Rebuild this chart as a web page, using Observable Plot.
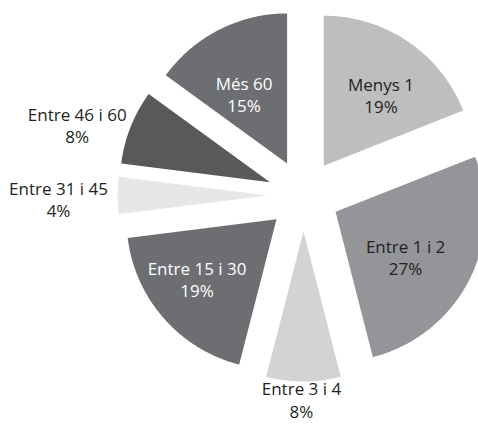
<!DOCTYPE html>
<html>
<head>
<meta charset="utf-8">
<script src="https://cdn.jsdelivr.net/npm/d3@7"></script>
<script src="https://cdn.jsdelivr.net/npm/@observablehq/plot@0.6"></script>
<style>
  html, body { margin: 0; padding: 0; background: #ffffff; }
  svg { display: block; }
</style>
</head>
<body>
<div id="chart"></div>
<script>
// ---- data ----
const categories = ["Menys 1", "Entre 1 i 2", "Entre 3 i 4", "Entre 15 i 30", "Entre 31 i 45", "Entre 46 i 60", "Més 60"];
const values = [19, 27, 8, 19, 4, 8, 15];
const percentLabels = values.map(v => v + "%");

// ---- styles ----
const sliceColors = ["#bcbec0", "#939598", "#d1d3d4", "#6d6e71", "#e6e7e8", "#58595b", "#6d6e71"];
const labelColors = ["#231f20", "#231f20", "#231f20", "#ffffff", "#231f20", "#231f20", "#ffffff"];

// ---- layout ----
const W = 478, H = 424;
const cx = 303, cy = 195;       // pie centre in the frame
const R = 150;                  // slice radius
const explode = 36;             // radial offset of every slice
const labelDist = [127, 119, 204, 135, 245, 237, 118];   // label distance from centre
const labelFrac = [0.55, 0.54, 0.52, 0.55, 0.45, 0.35, 0.44]; // position inside slice angle

// ---- geometry from data ----
const arcs = d3.pie().sort(null).value(d => d)(values);
const slicePts = [];
const labelData = [];
arcs.forEach((a, i) => {
  const cat = categories[i];
  const mid = (a.startAngle + a.endAngle) / 2;
  const ox = explode * Math.sin(mid), oy = explode * Math.cos(mid);
  slicePts.push({cat, x: ox, y: oy});
  const n = Math.max(12, Math.ceil((a.endAngle - a.startAngle) / 0.01));
  for (let k = 0; k <= n; k++) {
    const t = a.startAngle + (a.endAngle - a.startAngle) * k / n;
    slicePts.push({cat, x: ox + R * Math.sin(t), y: oy + R * Math.cos(t)});
  }
  slicePts.push({cat, x: ox, y: oy});
  const th = a.startAngle + (a.endAngle - a.startAngle) * labelFrac[i];
  labelData.push({
    cat,
    text: cat + "\n" + percentLabels[i],
    x: labelDist[i] * Math.sin(th),
    y: labelDist[i] * Math.cos(th),
    color: labelColors[i]
  });
});

const textOpts = {
  x: "x", y: "y", text: "text",
  fontSize: 17, fontFamily: "'Open Sans', 'Noto Sans', sans-serif",
  lineHeight: 1.32, textAnchor: "middle", lineAnchor: "middle"
};

const chart = Plot.plot({
  width: W,
  height: H,
  margin: 0,
  style: {background: "#ffffff"},
  x: {domain: [-cx, W - cx], axis: null},
  y: {domain: [-(H - cy), cy], axis: null},
  color: {domain: categories, range: sliceColors},
  marks: [
    Plot.line(slicePts, {x: "x", y: "y", z: "cat", fill: "cat", stroke: "none"}),
    Plot.text(labelData.filter(d => d.color !== "#ffffff"), {...textOpts, fill: "#231f20"}),
    Plot.text(labelData.filter(d => d.color === "#ffffff"), {...textOpts, fill: "#ffffff"})
  ]
});
document.getElementById("chart").appendChild(chart);
</script>
</body>
</html>
